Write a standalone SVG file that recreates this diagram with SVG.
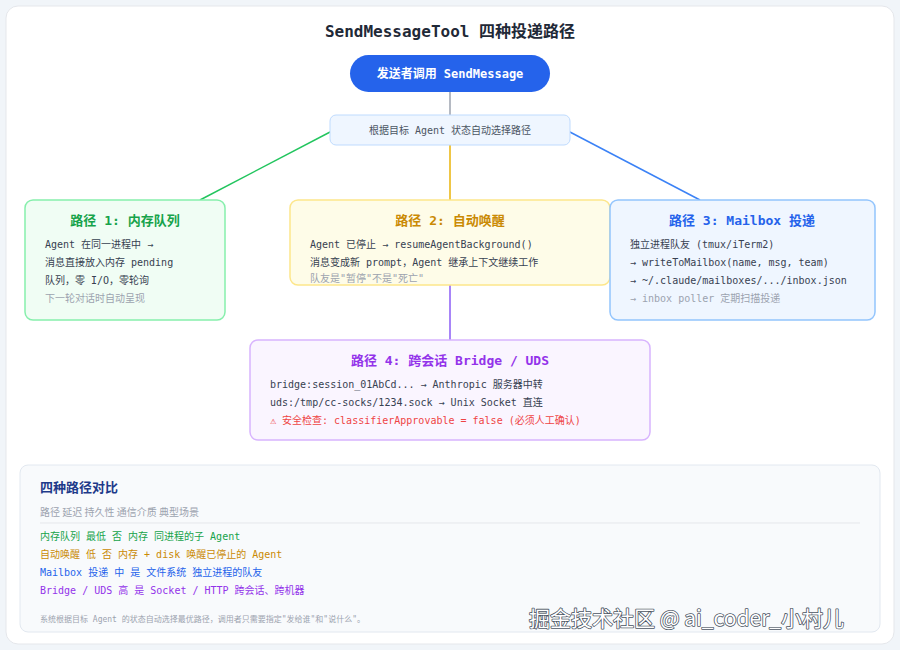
<svg xmlns="http://www.w3.org/2000/svg" width="900" height="650" viewBox="0 0 900 650">
<defs>
<style>
.sans{font-family:"Noto Sans CJK SC","Noto Sans",sans-serif}
.mono{font-family:"DejaVu Sans Mono","Noto Sans CJK SC",monospace}
.t{font-size:10px;fill:#374151}
.g{font-size:10px;fill:#9ca3af}
.h{font-size:13px;font-weight:bold;text-anchor:middle}
.ln{fill:none;stroke-width:1.5}
</style>
</defs>
<rect x="0" y="0" width="900" height="650" fill="#f1f5f9"/>
<rect x="6" y="6" width="888" height="638" rx="12" fill="#ffffff" stroke="#e5e7eb"/>
<text x="450" y="37" class="mono" font-size="16" font-weight="bold" fill="#1f2937" text-anchor="middle">SendMessageTool 四种投递路径</text>
<g id="connectors">
<line class="ln" x1="450" y1="91" x2="450" y2="115" stroke="#9ca3af"/>
<line class="ln" x1="332" y1="131" x2="200" y2="200" stroke="#22c55e"/>
<line class="ln" x1="450" y1="145" x2="450" y2="200" stroke="#eab308"/>
<line class="ln" x1="568" y1="131" x2="700" y2="200" stroke="#3b82f6"/>
<line class="ln" x1="450" y1="285" x2="450" y2="340" stroke="#8b5cf6"/>
</g>
<g id="sender">
<rect x="350" y="55" width="200" height="37" rx="18.5" fill="#2563eb"/>
<text x="450" y="78" class="mono" font-size="12" font-weight="bold" fill="#fff" text-anchor="middle">发送者调用 SendMessage</text>
</g>
<g id="selector">
<rect x="330" y="115" width="240" height="30" rx="6" fill="#eff6ff" stroke="#bfdbfe"/>
<text x="450" y="134" class="mono" font-size="10" fill="#4b5563" text-anchor="middle">根据目标 Agent 状态自动选择路径</text>
</g>
<g id="path1">
<rect x="25" y="200" width="200" height="120" rx="8" fill="#f0fdf4" stroke="#86efac" stroke-width="1.5"/>
<text x="125" y="225" class="mono h" fill="#16a34a">路径 1: 内存队列</text>
<text x="45" y="248" class="mono t">Agent 在同一进程中 →</text>
<text x="45" y="266" class="mono t">消息直接放入内存 pending</text>
<text x="45" y="284" class="mono t">队列，零 I/O，零轮询</text>
<text x="45" y="302" class="mono g">下一轮对话时自动呈现</text>
</g>
<g id="path2">
<rect x="290" y="200" width="320" height="85" rx="8" fill="#fefce8" stroke="#fde68a" stroke-width="1.5"/>
<text x="450" y="225" class="mono h" fill="#ca8a04">路径 2: 自动唤醒</text>
<text x="310" y="248" class="mono t">Agent 已停止 → resumeAgentBackground()</text>
<text x="310" y="266" class="mono t">消息变成新 prompt，Agent 继承上下文继续工作</text>
<text x="310" y="282" class="mono g">队友是"暂停"不是"死亡"</text>
</g>
<g id="path3">
<rect x="610" y="200" width="265" height="120" rx="8" fill="#eff6ff" stroke="#93c5fd" stroke-width="1.5"/>
<text x="742" y="225" class="mono h" fill="#2563eb">路径 3: Mailbox 投递</text>
<text x="630" y="248" class="mono t">独立进程队友 (tmux/iTerm2)</text>
<text x="630" y="266" class="mono t">→ writeToMailbox(name, msg, team)</text>
<text x="630" y="284" class="mono t">→ ~/.claude/mailboxes/.../inbox.json</text>
<text x="630" y="302" class="mono g">→ inbox poller 定期扫描投递</text>
</g>
<g id="path4">
<rect x="250" y="340" width="400" height="100" rx="8" fill="#faf5ff" stroke="#d8b4fe" stroke-width="1.5"/>
<text x="450" y="365" class="mono h" fill="#9333ea">路径 4: 跨会话 Bridge / UDS</text>
<text x="270" y="388" class="mono t">bridge:session_01AbCd... → Anthropic 服务器中转</text>
<text x="270" y="406" class="mono t">uds:/tmp/cc-socks/1234.sock → Unix Socket 直连</text>
<text x="270" y="424" class="mono" font-size="10" fill="#ef4444">⚠ 安全检查: classifierApprovable = false (必须人工确认)</text>
</g>
<g id="compare">
<rect x="20" y="465" width="860" height="167" rx="8" fill="#f8fafc" stroke="#e2e8f0"/>
<text x="40" y="492" class="sans" font-size="13" font-weight="bold" fill="#1e3a8a">四种路径对比</text>
<text x="40" y="516" class="sans" font-size="10" fill="#9ca3af">路径 延迟 持久性 通信介质 典型场景</text>
<line x1="40" y1="523" x2="860" y2="523" stroke="#e5e7eb"/>
<text x="40" y="540" class="mono" font-size="10" fill="#16a34a">内存队列 最低 否 内存 同进程的子 Agent</text>
<text x="40" y="558" class="mono" font-size="10" fill="#ca8a04">自动唤醒 低 否 内存 + disk 唤醒已停止的 Agent</text>
<text x="40" y="576" class="mono" font-size="10" fill="#2563eb">Mailbox 投递 中 是 文件系统 独立进程的队友</text>
<text x="40" y="594" class="mono" font-size="10" fill="#9333ea">Bridge / UDS 高 是 Socket / HTTP 跨会话、跨机器</text>
<text x="40" y="622" class="mono" font-size="8" fill="#9ca3af">系统根据目标 Agent 的状态自动选择最优路径，调用者只需要指定"发给谁"和"说什么"。</text>
</g>
<text x="529" y="626" class="sans" font-size="21" fill="#ffffff" stroke="#4b5563" stroke-width="1.6" stroke-linejoin="round" paint-order="stroke">掘金技术社区 @ ai_coder_小村儿</text>
</svg>
